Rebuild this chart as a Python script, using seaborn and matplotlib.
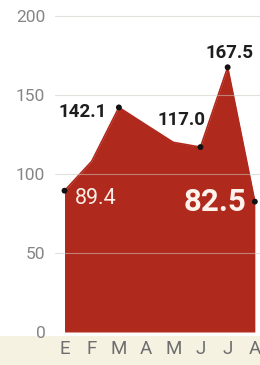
import matplotlib
matplotlib.use("Agg")
import matplotlib.pyplot as plt
import seaborn as sns
import pandas as pd
import numpy as np
from matplotlib.patches import Rectangle

months = ["E", "F", "M", "A", "M", "J", "J", "A"]
values = [89.4, 108.0, 142.1, 131.0, 120.0, 117.0, 167.5, 82.5]
marked_idx = [0, 2, 5, 6, 7]
yticks = [0, 50, 100, 150, 200]

# annotations: (text, x-index, y-value)
labels = ["142.1", "117.0", "167.5", "89.4", "82.5"]
label_x = [0.66, 4.32, 6.08, 1.14, 5.53]
label_y = [139.5, 134.0, 176.5, 84.5, 82.0]

sns.set_theme(style="white")
plt.rcParams["font.family"] = ["Roboto", "DejaVu Sans"]

RED = "#b0291d"
df = pd.DataFrame({"idx": np.arange(len(months)), "value": values})

fig = plt.figure(figsize=(2.6, 3.65), dpi=100, facecolor="white")
fig.patches.append(Rectangle((0, 0), 1, 29 / 365, transform=fig.transFigure,
                             facecolor="#f6f2e2", edgecolor="none", zorder=-10))
ax = fig.add_axes([55 / 260, 33 / 365, 205 / 260, 324 / 365])
ax.set_facecolor("none")

ax.fill_between(df["idx"], 0, df["value"], color=RED, linewidth=0, zorder=2)
sns.lineplot(data=df, x="idx", y="value", ax=ax, color=RED, linewidth=1.2, zorder=3)
sns.scatterplot(data=df.iloc[marked_idx], x="idx", y="value", ax=ax,
                color="#111111", s=18, edgecolor="none", zorder=4)

for yv in yticks:
    ax.axhline(yv, color="#cfc8c0", lw=0.8, alpha=0.55, zorder=5)

ax.set_xlim(-0.35, 7.19)
ax.set_ylim(0, 205)
ax.set_yticks(yticks)
ax.set_xticks(range(len(months)))
ax.set_xticklabels(months)
ax.tick_params(axis="y", length=0, pad=7, labelsize=12.5, labelcolor="#858585")
ax.tick_params(axis="x", length=0, pad=6, labelsize=13.5, labelcolor="#6e6e6e")
ax.set_xlabel("")
ax.set_ylabel("")
for s in ax.spines.values():
    s.set_visible(False)

styles = [
    ("#1e1e1e", 13.5, "bold"),
    ("#1e1e1e", 13.5, "bold"),
    ("#1e1e1e", 13.5, "bold"),
    ("#fbeee6", 15.5, "normal"),
    ("#fdf3ec", 22.5, "bold"),
]
for t, x, y, (c, fs, fw) in zip(labels, label_x, label_y, styles):
    ax.text(x, y, t, color=c, fontsize=fs, fontweight=fw, ha="center", va="center",
            zorder=6)

fig.savefig("out.png", dpi=100, facecolor=fig.get_facecolor())
